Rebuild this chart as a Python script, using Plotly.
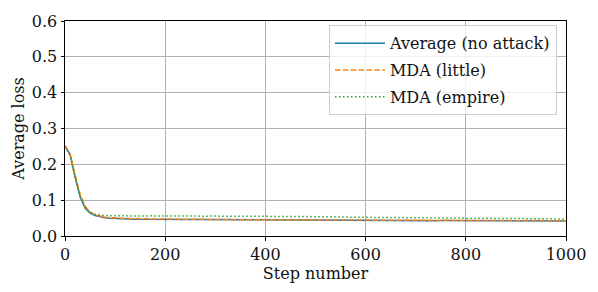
import plotly.graph_objects as go

steps = list(range(0, 1001, 10))

avg_no_attack = [
    0.2500, 0.2280, 0.1650, 0.1100, 0.0780, 0.0640, 0.0570, 0.0530, 0.0510, 0.0495,
    0.0485, 0.0481, 0.0474, 0.0472, 0.0467, 0.0466, 0.0462, 0.0463, 0.0459, 0.0458,
    0.0457, 0.0455, 0.0456, 0.0453, 0.0454, 0.0451, 0.0452, 0.0450, 0.0451, 0.0448,
    0.0449, 0.0447, 0.0448, 0.0446, 0.0447, 0.0445, 0.0446, 0.0444, 0.0445, 0.0443,
    0.0444, 0.0442, 0.0444, 0.0441, 0.0443, 0.0440, 0.0442, 0.0441, 0.0439, 0.0441,
    0.0438, 0.0440, 0.0437, 0.0439, 0.0438, 0.0436, 0.0438, 0.0435, 0.0437, 0.0436,
    0.0434, 0.0436, 0.0433, 0.0435, 0.0434, 0.0432, 0.0434, 0.0433, 0.0431, 0.0433,
    0.0432, 0.0430, 0.0432, 0.0431, 0.0429, 0.0431, 0.0430, 0.0428, 0.0430, 0.0429,
    0.0428, 0.0429, 0.0427, 0.0429, 0.0426, 0.0428, 0.0427, 0.0425, 0.0427, 0.0426,
    0.0425, 0.0427, 0.0424, 0.0426, 0.0424, 0.0423, 0.0425, 0.0423, 0.0424, 0.0422,
    0.0421,
]

mda_little = [
    0.2520, 0.2300, 0.1720, 0.1180, 0.0830, 0.0670, 0.0590, 0.0550, 0.0525, 0.0510,
    0.0498, 0.0492, 0.0488, 0.0483, 0.0481, 0.0476, 0.0475, 0.0471, 0.0472, 0.0468,
    0.0469, 0.0465, 0.0467, 0.0463, 0.0465, 0.0461, 0.0463, 0.0460, 0.0462, 0.0458,
    0.0461, 0.0457, 0.0459, 0.0456, 0.0458, 0.0455, 0.0457, 0.0454, 0.0456, 0.0453,
    0.0455, 0.0452, 0.0454, 0.0451, 0.0453, 0.0450, 0.0452, 0.0449, 0.0451, 0.0448,
    0.0450, 0.0447, 0.0449, 0.0446, 0.0448, 0.0445, 0.0447, 0.0444, 0.0446, 0.0443,
    0.0445, 0.0442, 0.0444, 0.0441, 0.0443, 0.0440, 0.0442, 0.0439, 0.0441, 0.0438,
    0.0440, 0.0437, 0.0439, 0.0436, 0.0438, 0.0435, 0.0437, 0.0434, 0.0436, 0.0433,
    0.0435, 0.0433, 0.0434, 0.0432, 0.0434, 0.0431, 0.0433, 0.0430, 0.0432, 0.0430,
    0.0431, 0.0429, 0.0431, 0.0428, 0.0430, 0.0428, 0.0429, 0.0427, 0.0429, 0.0426,
    0.0427,
]

mda_empire = [
    0.2490, 0.2260, 0.1660, 0.1120, 0.0800, 0.0660, 0.0605, 0.0580, 0.0570, 0.0565,
    0.0562, 0.0566, 0.0560, 0.0564, 0.0559, 0.0563, 0.0558, 0.0562, 0.0557, 0.0561,
    0.0558, 0.0562, 0.0556, 0.0560, 0.0555, 0.0559, 0.0554, 0.0558, 0.0553, 0.0556,
    0.0556, 0.0559, 0.0554, 0.0558, 0.0553, 0.0557, 0.0551, 0.0555, 0.0550, 0.0553,
    0.0548, 0.0552, 0.0546, 0.0549, 0.0543, 0.0547, 0.0541, 0.0544, 0.0539, 0.0542,
    0.0536, 0.0539, 0.0533, 0.0536, 0.0530, 0.0533, 0.0527, 0.0530, 0.0524, 0.0527,
    0.0521, 0.0524, 0.0518, 0.0521, 0.0515, 0.0518, 0.0513, 0.0516, 0.0510, 0.0513,
    0.0508, 0.0511, 0.0505, 0.0508, 0.0503, 0.0506, 0.0500, 0.0503, 0.0498, 0.0501,
    0.0496, 0.0499, 0.0493, 0.0496, 0.0491, 0.0494, 0.0489, 0.0492, 0.0487, 0.0490,
    0.0485, 0.0488, 0.0483, 0.0486, 0.0481, 0.0484, 0.0479, 0.0482, 0.0477, 0.0480,
    0.0476,
]

series_names = ["Average (no attack)", "MDA (little)", "MDA (empire)"]
x_ticks = [0, 200, 400, 600, 800, 1000]
y_ticks = [0.0, 0.1, 0.2, 0.3, 0.4, 0.5, 0.6]

FONT = "DejaVu Serif"
FS = 16

fig = go.Figure()
fig.add_trace(go.Scatter(x=steps, y=avg_no_attack, mode="lines", name=series_names[0],
                         legendgroup="a", line=dict(color="#1f77b4", width=1.5)))
fig.add_trace(go.Scatter(x=steps, y=mda_little, mode="lines", name=series_names[1],
                         legendgroup="b", line=dict(color="#ff7f0e", width=1.5, dash="5.5px,2.4px")))
fig.add_trace(go.Scatter(x=steps, y=mda_empire, mode="lines", name=series_names[2],
                         legendgroup="c", line=dict(color="#2ca02c", width=1.5, dash="1.5px,2.5px")))

axis_common = dict(
    showline=True, linecolor="black", linewidth=1, mirror=True,
    ticks="outside", ticklen=3.5, tickwidth=0.8, tickcolor="black",
    showgrid=True, gridcolor="#b0b0b0", gridwidth=0.8,
    zeroline=False,
    tickfont=dict(family=FONT, size=FS, color="#111111"),
)

fig.update_layout(
    width=598, height=292,
    margin=dict(l=65, r=31, t=17, b=56),
    paper_bgcolor="white", plot_bgcolor="white",
    font=dict(family=FONT, size=FS, color="#111111"),
    xaxis=dict(range=[0, 1000], tickvals=x_ticks, ticktext=[str(v) for v in x_ticks],
               title=dict(text="Step number", font=dict(family=FONT, size=FS), standoff=2),
               **axis_common),
    yaxis=dict(range=[0, 0.6], tickvals=y_ticks, ticktext=[f"{v:.1f}" for v in y_ticks],
               title=dict(text="Average loss", font=dict(family=FONT, size=FS), standoff=3),
               **axis_common),
    legend=dict(x=0.982, y=0.98, xanchor="right", yanchor="top",
                bgcolor="rgba(255,255,255,0.8)", bordercolor="#cccccc", borderwidth=1,
                font=dict(family=FONT, size=FS), itemwidth=50, tracegroupgap=3),
    showlegend=True,
)

fig.write_html("out.html", config={"displayModeBar": False},
               post_script="document.body.style.margin='0';")
